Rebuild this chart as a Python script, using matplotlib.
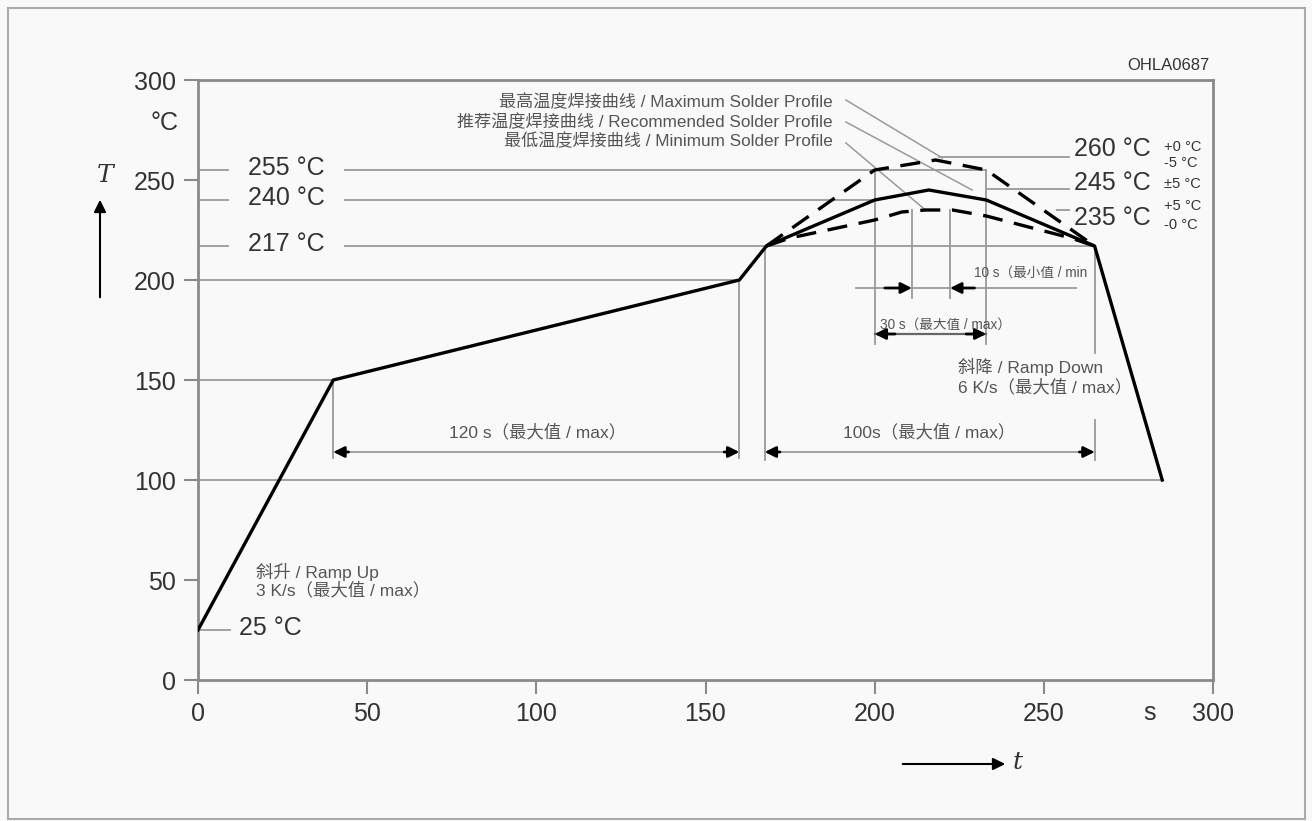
import matplotlib
matplotlib.use('Agg')
import matplotlib.pyplot as plt
from matplotlib.patches import Rectangle, FancyArrowPatch

plt.rcParams['font.family'] = ['Liberation Sans', 'Noto Sans CJK SC', 'DejaVu Sans']

# 焊接曲线数据
t_rec = [0, 40, 160, 168, 200, 216, 233, 265, 285]
T_rec = [25, 150, 200, 217, 240, 245, 240, 217, 100]
t_max = [168, 200, 218, 233, 265]
T_max = [217, 255, 260, 255, 217]
t_min = [168, 175, 200, 208, 215, 223, 233, 258, 265]
T_min = [217, 221, 230, 234, 235, 235, 232, 221, 217]

xticks = [0, 50, 100, 150, 200, 250, 300]
yticks = [0, 50, 100, 150, 200, 250, 300]

gray = '#9a9a9a'
dark = '#333333'
txt = '#555555'

W, H = 1312, 821
fig = plt.figure(figsize=(13.12, 8.21), dpi=100, facecolor='#f9f9f9')
ax = fig.add_axes([198 / W, 1 - 680 / H, (1213 - 198) / W, 600 / H])
ax.set_facecolor('#f9f9f9')
ax.set_xlim(0, 300)
ax.set_ylim(0, 300)
for s in ax.spines.values():
    s.set_color('#8a8a8a')
    s.set_linewidth(2)
ax.set_xticks(xticks)
ax.set_yticks(yticks)
ax.tick_params(direction='out', length=10, width=1.5, color='#8a8a8a',
               labelsize=18, labelcolor=dark, pad=6)

# 辅助线
def hl(y, x0, x1, c=gray, lw=1.3):
    ax.plot([x0, x1], [y, y], color=c, lw=lw, zorder=1)

def vl(x, y0, y1, c=gray, lw=1.3):
    ax.plot([x, x], [y0, y1], color=c, lw=lw, zorder=1)

hl(255, 0, 9); hl(255, 43.5, 233)
hl(240, 0, 9); hl(240, 43.5, 200)
hl(217, 0, 9); hl(217, 43.5, 265)
hl(200, 0, 160)
hl(150, 0, 40)
hl(100, 0, 285)
hl(25, 0, 9.5)
hl(261.5, 219, 257.5)
hl(245.5, 233, 257.5)
hl(235, 254, 257.5)

vl(40, 150, 111)
vl(160, 200, 111)
vl(167.5, 217, 110)
vl(265, 217, 163.5); vl(265, 130, 110)
vl(200, 255, 168)
vl(233, 255, 168)
vl(211, 235, 191)
vl(222.3, 235, 191)

# 曲线
ax.plot(t_max, T_max, color='black', lw=2.4, ls=(0, (6, 3.5)), zorder=3)
ax.plot(t_min, T_min, color='black', lw=2.4, ls=(0, (6, 3.5)), zorder=3)
ax.plot(t_rec, T_rec, color='black', lw=2.4, zorder=4)

# 尺寸标注箭头
def arrow(x_tip, x_tail, y):
    ax.annotate('', xy=(x_tip, y), xytext=(x_tail, y),
                arrowprops=dict(arrowstyle='-|>', color='black', lw=2,
                                mutation_scale=16, shrinkA=0, shrinkB=0), zorder=5)

hl(114, 40, 160)
arrow(40, 44.5, 114); arrow(160, 155.5, 114)
hl(114, 167.5, 265)
arrow(167.5, 172, 114); arrow(265, 260.5, 114)
hl(196, 194.5, 259.5)
arrow(211, 203, 196); arrow(222.3, 229.5, 196)
hl(173, 200, 233, c='#666666', lw=1.6)
arrow(200, 206, 173); arrow(233, 227, 173)

ax.text(100.5, 124, '120 s（最大值 / max）', fontsize=12.5, color=txt, ha='center', va='center')
ax.text(216, 124, '100s（最大值 / max）', fontsize=12.5, color=txt, ha='center', va='center')
ax.text(229.5, 203.5, '10 s（最小值 / min', fontsize=9.8, color=txt, ha='left', va='center')
ax.text(201.5, 177.5, '30 s（最大值 / max）', fontsize=9.8, color=txt, ha='left', va='center')
ax.text(224.5, 156.5, '斜降 / Ramp Down', fontsize=12.5, color=txt, ha='left', va='center')
ax.text(224.5, 146.5, '6 K/s（最大值 / max）', fontsize=12.5, color=txt, ha='left', va='center')
ax.text(17, 54, '斜升 / Ramp Up', fontsize=12.5, color=txt, ha='left', va='center')
ax.text(17, 45, '3 K/s（最大值 / max）', fontsize=12.5, color=txt, ha='left', va='center')

# 顶部说明与引线
ax.text(187.5, 289, '最高温度焊接曲线 / Maximum Solder Profile', fontsize=12.3, color=txt, ha='right', va='center')
ax.text(187.5, 279, '推荐温度焊接曲线 / Recommended Solder Profile', fontsize=12.3, color=txt, ha='right', va='center')
ax.text(187.5, 269.5, '最低温度焊接曲线 / Minimum Solder Profile', fontsize=12.3, color=txt, ha='right', va='center')
ax.plot([191.5, 220], [290, 261], color=gray, lw=1.1, zorder=2)
ax.plot([191.5, 228.8], [279, 245], color=gray, lw=1.1, zorder=2)
ax.plot([191.5, 215], [268.5, 235], color=gray, lw=1.1, zorder=2)

# 温度标签
for y, s in [(256, '255 °C'), (241, '240 °C'), (218, '217 °C')]:
    ax.text(26, y, s, fontsize=18, color=dark, ha='center', va='center')
ax.text(12, 26, '25 °C', fontsize=18, color=dark, ha='left', va='center')
ax.text(259, 265.5, '260 °C', fontsize=18, color=dark, ha='left', va='center')
ax.text(259, 248.5, '245 °C', fontsize=18, color=dark, ha='left', va='center')
ax.text(259, 231, '235 °C', fontsize=18, color=dark, ha='left', va='center')
ax.text(285.5, 266.5, '+0 °C', fontsize=10.5, color=dark, ha='left', va='center')
ax.text(285.5, 258.5, '-5 °C', fontsize=10.5, color=dark, ha='left', va='center')
ax.text(285.5, 248, '±5 °C', fontsize=10.5, color=dark, ha='left', va='center')
ax.text(285.5, 237, '+5 °C', fontsize=10.5, color=dark, ha='left', va='center')
ax.text(285.5, 227.5, '-0 °C', fontsize=10.5, color=dark, ha='left', va='center')

# 轴单位与符号
fig.text(165 / W, 1 - 123 / H, '°C', fontsize=18, color=dark, ha='center', va='center')
fig.text(1150 / W, 1 - 713 / H, 's', fontsize=18, color=dark, ha='center', va='center')
fig.text(1210 / W, 1 - 65 / H, 'OHLA0687', fontsize=12, color=dark, ha='right', va='center')
fig.text(105 / W, 1 - 176 / H, 'T', fontsize=18, style='italic', color=dark, ha='center', va='center',
         family='DejaVu Serif')
fig.text(1018 / W, 1 - 762 / H, 't', fontsize=18, style='italic', color=dark, ha='center', va='center',
         family='DejaVu Serif')
fig.add_artist(FancyArrowPatch((100 / W, 1 - 300 / H), (100 / W, 1 - 197 / H),
               transform=fig.transFigure, arrowstyle='-|>', mutation_scale=18, color='black', lw=1.5))
fig.add_artist(FancyArrowPatch((900 / W, 1 - 764 / H), (1008 / W, 1 - 764 / H),
               transform=fig.transFigure, arrowstyle='-|>', mutation_scale=18, color='black', lw=1.5))

fig.add_artist(Rectangle((8 / W, 0.002), (1305 - 8) / W, (821 - 10) / H, transform=fig.transFigure,
                         fill=False, ec='#aaaaaa', lw=1.5))

fig.savefig('out.png', dpi=100, facecolor=fig.get_facecolor())
